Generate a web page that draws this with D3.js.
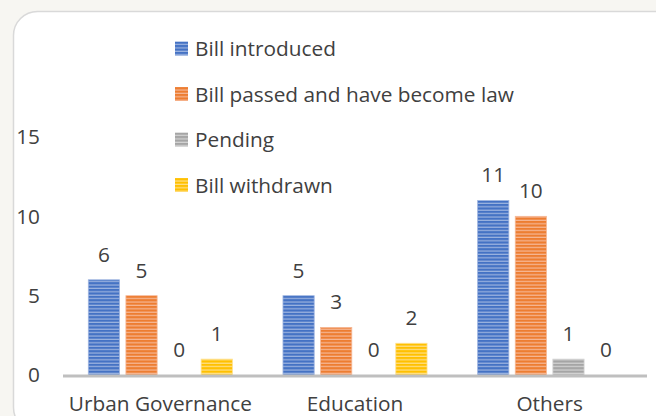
<!DOCTYPE html>
<html lang="en">
<head>
    <meta charset="UTF-8">
    <title>Bills by category</title>
    <script src="https://d3js.org/d3.v7.min.js"></script>
    <style>
        body { margin: 0; background: #f7f6f2; }
        text { font-family: 'Open Sans', 'Helvetica', sans-serif; fill: #404040; }
    </style>
</head>
<body>
    <div id="chart"></div>
    <script>
        // data
        const categories = ["Urban Governance", "Education", "Others"];
        const seriesNames = ["Bill introduced", "Bill passed and have become law", "Pending", "Bill withdrawn"];
        const introduced = [6, 5, 11];
        const passed = [5, 3, 10];
        const pending = [0, 0, 1];
        const withdrawn = [1, 2, 0];
        const yTicks = [0, 5, 10, 15];

        const colors = ["#4472c4", "#ed7d31", "#a5a5a5", "#ffc000"];
        const stripes = ["#9db4e0", "#f6b896", "#d3d3d3", "#ffe08a"];
        const values = [introduced, passed, pending, withdrawn];

        const W = 656, H = 416;
        const margin = {top: 0, left: 63, right: 9, bottom: 41};
        const plotW = W - margin.left - margin.right;
        const baseY = H - margin.bottom;
        const fs = "20.8px";

        const svg = d3.select("#chart").append("svg")
            .attr("width", W).attr("height", H);

        // card behind the chart
        svg.append("rect")
            .attr("x", 13.5).attr("y", 11.5)
            .attr("width", 680).attr("height", 420)
            .attr("rx", 24)
            .style("fill", "#fff").style("stroke", "#d9d9d9").style("stroke-width", 1.5);

        // striped fills
        const defs = svg.append("defs");
        colors.forEach(function(c, i) {
            const p = defs.append("pattern")
                .attr("id", "stripe" + i)
                .attr("patternUnits", "userSpaceOnUse")
                .attr("width", 8).attr("height", 3.4);
            p.append("rect").attr("width", 8).attr("height", 3.4).style("fill", c);
            p.append("rect").attr("y", 2.2).attr("width", 8).attr("height", 1.2).style("fill", stripes[i]);
        });

        const y = d3.scaleLinear()
            .domain([0, 15])
            .range([baseY, baseY - 238]);

        const x0 = d3.scaleBand()
            .domain(categories)
            .range([margin.left, margin.left + plotW])
            .paddingInner(0.26)
            .paddingOuter(0.13);

        const x1 = d3.scaleBand()
            .domain(d3.range(seriesNames.length))
            .range([0, x0.bandwidth()])
            .paddingInner(0.17);

        // y tick labels (no axis line)
        svg.append("g").selectAll("text")
            .data(yTicks)
            .join("text")
            .attr("x", 40)
            .attr("y", function(d) { return y(d); })
            .attr("dy", "0.36em")
            .attr("text-anchor", "end")
            .style("font-size", fs)
            .text(function(d) { return d; });

        // bars
        const groups = svg.append("g").selectAll("g")
            .data(categories)
            .join("g")
            .attr("transform", function(d) { return `translate(${x0(d)},0)`; });

        groups.selectAll("rect")
            .data(function(d, ci) { return values.map(function(v, si) { return {s: si, v: v[ci]}; }); })
            .join("rect")
            .attr("x", function(d) { return x1(d.s); })
            .attr("y", function(d) { return y(d.v); })
            .attr("width", x1.bandwidth())
            .attr("height", function(d) { return baseY - y(d.v); })
            .style("fill", function(d) { return `url(#stripe${d.s})`; })
            .style("stroke", function(d) { return d.v > 0 ? stripes[d.s] : "none"; })
            .style("stroke-width", 0.8);

        groups.selectAll("text")
            .data(function(d, ci) { return values.map(function(v, si) { return {s: si, v: v[ci]}; }); })
            .join("text")
            .attr("x", function(d) { return x1(d.s) + x1.bandwidth() / 2; })
            .attr("y", function(d) { return y(d.v) - 18; })
            .attr("text-anchor", "middle")
            .style("font-size", fs)
            .text(function(d) { return d.v; });

        // baseline
        svg.append("line")
            .attr("x1", margin.left).attr("x2", margin.left + plotW)
            .attr("y1", baseY + 1).attr("y2", baseY + 1)
            .style("stroke", "#bfbfbf").style("stroke-width", 3);

        // category labels
        svg.append("g").selectAll("text")
            .data(categories)
            .join("text")
            .attr("x", function(d) { return x0(d) + x0.bandwidth() / 2; })
            .attr("y", 410.5)
            .attr("text-anchor", "middle")
            .style("font-size", fs)
            .text(function(d) { return d; });

        // legend
        const legend = svg.append("g").selectAll("g")
            .data(seriesNames)
            .join("g")
            .attr("transform", function(d, i) { return `translate(175,${48.5 + i * 45.5})`; });
        legend.append("rect")
            .attr("x", 0).attr("y", -7)
            .attr("width", 13).attr("height", 14)
            .style("fill", function(d, i) { return `url(#stripe${i})`; });
        legend.append("text")
            .attr("x", 20).attr("dy", "0.36em")
            .style("font-size", fs)
            .text(function(d) { return d; });
    </script>
</body>
</html>
